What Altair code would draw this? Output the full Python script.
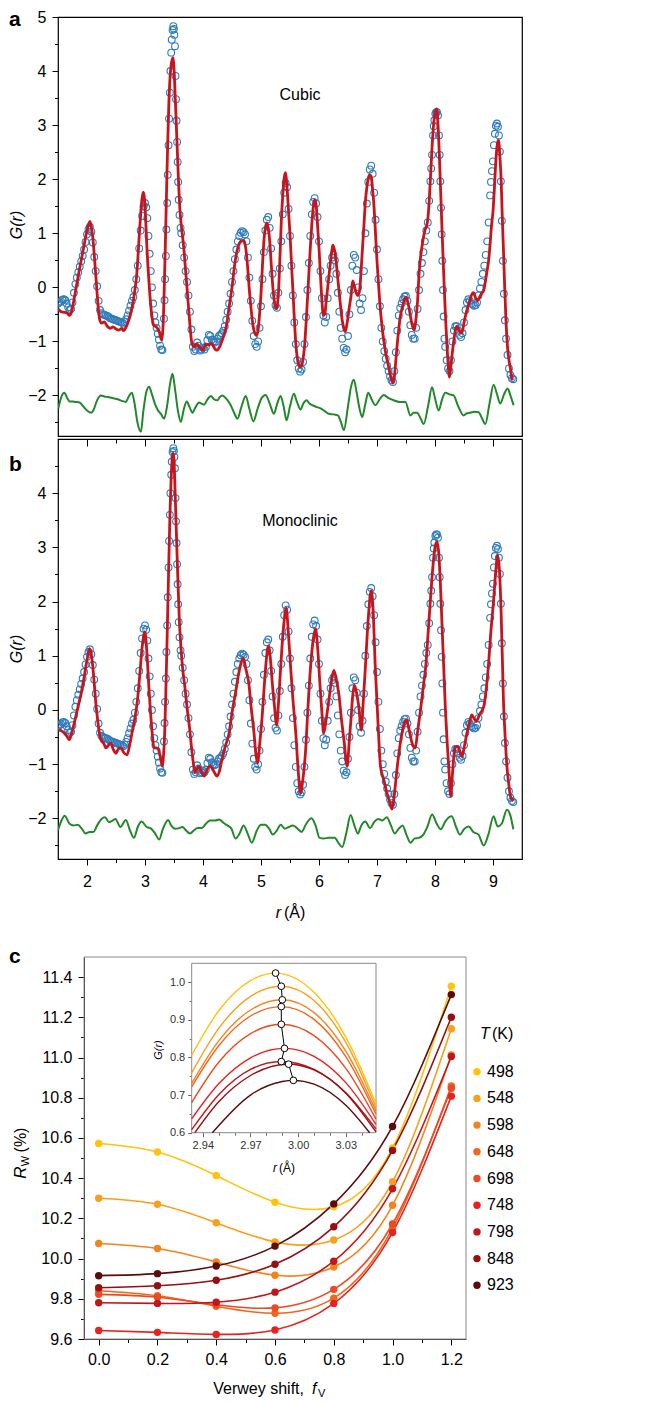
import altair as alt
import pandas as pd

FONT = "Liberation Sans"
BLUE = "#2f7bbd"
RED = "#c8151b"
GREEN = "#23882b"

# ---------------- panel a / b : G(r) data ----------------
OBS = [(1.500,-0.30),(1.525,-0.28),(1.550,-0.26),(1.575,-0.23),(1.600,-0.22),(1.625,-0.24),(1.650,-0.30),(1.675,-0.37),
(1.700,-0.42),(1.725,-0.40),(1.750,-0.28),(1.775,-0.10),(1.800,0.06),(1.825,0.18),(1.850,0.28),(1.875,0.38),(1.900,0.48),
(1.925,0.58),(1.950,0.70),(1.975,0.84),(2.000,0.98),(2.025,1.07),(2.050,1.12),(2.075,1.03),(2.100,0.83),(2.125,0.56),
(2.150,0.30),(2.175,0.02),(2.200,-0.25),(2.225,-0.42),(2.250,-0.48),(2.275,-0.50),(2.300,-0.51),(2.325,-0.52),(2.350,-0.53),
(2.375,-0.55),(2.400,-0.57),(2.425,-0.58),(2.450,-0.59),(2.475,-0.60),(2.500,-0.61),(2.525,-0.62),(2.550,-0.63),(2.575,-0.64),
(2.600,-0.65),(2.625,-0.67),(2.650,-0.64),(2.675,-0.59),(2.700,-0.52),(2.725,-0.43),(2.750,-0.34),(2.775,-0.25),(2.800,-0.18),
(2.825,-0.05),(2.850,0.15),(2.875,0.40),(2.900,0.72),(2.925,1.05),(2.950,1.32),(2.975,1.50),(3.000,1.56),(3.020,1.48),
(3.040,1.28),(3.060,0.95),(3.080,0.62),(3.100,0.30),(3.120,0.00),(3.140,-0.30),(3.160,-0.52),(3.180,-0.65),(3.200,-0.75),
(3.220,-0.86),(3.240,-0.97),(3.260,-1.08),(3.280,-1.15),(3.300,-1.16),(3.327,-0.58),(3.337,-0.24),(3.346,0.15),(3.360,0.58),
(3.369,1.07),(3.383,1.56),(3.392,2.08),(3.406,2.63),(3.415,3.12),(3.429,3.60),(3.438,4.00),(3.452,4.34),(3.461,4.58),
(3.475,4.76),(3.489,4.83),(3.498,4.78),(3.507,4.67),(3.517,4.46),(3.526,3.91),(3.535,3.48),(3.544,3.08),(3.554,2.69),
(3.563,2.32),(3.572,1.95),(3.581,1.62),(3.595,1.34),(3.613,1.10),(3.625,1.00),(3.650,0.78),
(3.675,0.55),(3.700,0.30),(3.725,0.10),(3.750,-0.15),(3.775,-0.45),(3.800,-0.78),(3.825,-1.10),(3.850,-1.18),(3.875,-1.15),
(3.900,-1.02),(3.925,-1.08),(3.950,-1.17),(3.975,-1.15),(4.000,-1.12),(4.025,-1.15),(4.050,-1.10),(4.075,-0.98),(4.100,-0.88),
(4.125,-0.90),(4.150,-0.97),(4.175,-1.00),(4.200,-1.02),(4.225,-1.00),(4.250,-0.95),(4.275,-0.90),(4.300,-0.88),(4.325,-0.85),
(4.350,-0.80),(4.375,-0.72),(4.400,-0.60),(4.425,-0.45),(4.450,-0.30),(4.475,-0.12),(4.500,0.10),(4.525,0.30),(4.550,0.52),
(4.575,0.70),(4.600,0.85),(4.625,0.95),(4.650,1.01),(4.675,1.04),(4.700,1.02),(4.725,0.98),(4.750,0.85),(4.775,0.55),
(4.800,0.18),(4.825,-0.25),(4.850,-0.62),(4.875,-0.90),(4.900,-1.05),(4.925,-1.10),(4.950,-1.00),(4.975,-0.75),(5.000,-0.35),
(5.025,0.15),(5.050,0.65),(5.075,1.05),(5.100,1.25),(5.125,1.30),(5.150,1.10),(5.175,0.72),(5.200,0.25),(5.225,-0.15),
(5.250,-0.33),(5.275,-0.38),(5.300,-0.10),(5.325,0.35),(5.350,0.85),(5.375,1.35),(5.400,1.75),(5.425,1.93),(5.450,1.85),
(5.475,1.45),(5.500,0.95),(5.525,0.40),(5.550,-0.15),(5.575,-0.65),(5.600,-1.05),(5.625,-1.35),(5.650,-1.50),(5.675,-1.56),
(5.700,-1.52),(5.725,-1.38),(5.750,-1.05),(5.775,-0.55),(5.800,-0.05),(5.825,0.45),(5.850,0.95),(5.875,1.35),(5.900,1.58),
(5.925,1.65),(5.950,1.55),(5.975,1.30),(6.000,0.85),(6.025,0.30),(6.050,-0.20),(6.075,-0.52),(6.100,-0.65),(6.125,-0.55),
(6.150,-0.20),(6.175,0.15),(6.200,0.40),(6.225,0.55),(6.250,0.60),(6.275,0.50),(6.300,0.25),(6.325,-0.10),(6.350,-0.45),
(6.375,-0.75),(6.400,-0.95),(6.425,-1.12),(6.450,-1.20),(6.475,-1.15),(6.500,-0.90),(6.525,-0.50),(6.550,-0.05),(6.575,0.40),
(6.600,0.60),(6.625,0.55),(6.650,0.32),(6.675,0.00),(6.700,-0.30),(6.725,-0.42),(6.750,-0.20),(6.775,0.30),(6.800,1.00),
(6.825,1.55),(6.850,1.95),(6.875,2.18),(6.900,2.25),(6.925,2.10),(6.950,1.75),(6.975,1.25),(7.000,0.70),(7.025,0.15),
(7.050,-0.35),(7.075,-0.75),(7.100,-1.00),(7.125,-1.18),(7.150,-1.32),(7.175,-1.45),(7.200,-1.55),(7.225,-1.65),(7.250,-1.72),
(7.275,-1.75),(7.300,-1.55),(7.325,-1.20),(7.350,-0.80),(7.375,-0.52),(7.400,-0.38),(7.425,-0.30),(7.450,-0.22),(7.475,-0.17),
(7.500,-0.16),(7.525,-0.25),(7.550,-0.45),(7.575,-0.70),(7.600,-0.88),(7.625,-0.95),(7.650,-0.95),(7.675,-0.75),(7.700,-0.40),
(7.725,-0.05),(7.750,0.25),(7.775,0.45),(7.800,0.65),(7.825,0.85),(7.850,1.05),(7.875,1.20),(7.900,1.60),(7.920,1.96),
(7.935,2.20),(7.949,2.45),(7.966,2.81),(7.978,2.98),(7.989,3.09),(8.006,3.21),(8.020,3.24),(8.035,3.24),(8.052,3.18),
(8.069,2.81),(8.081,2.45),(8.092,1.96),(8.104,1.47),(8.115,0.98),(8.127,0.49),(8.138,-0.05),(8.149,-0.54),(8.162,-0.95),
(8.175,-1.10),(8.200,-1.35),(8.225,-1.50),(8.250,-1.55),(8.275,-1.35),(8.300,-1.00),(8.325,-0.80),(8.350,-0.72),(8.375,-0.72),
(8.400,-0.80),(8.425,-0.88),(8.450,-0.92),(8.475,-0.85),(8.500,-0.65),(8.525,-0.42),(8.550,-0.28),(8.575,-0.22),(8.600,-0.25),
(8.625,-0.30),(8.650,-0.32),(8.675,-0.34),(8.700,-0.33),(8.725,-0.28),(8.750,-0.15),(8.775,-0.02),(8.800,0.10),(8.825,0.25),
(8.850,0.40),(8.875,0.60),(8.900,0.85),(8.925,1.20),(8.950,1.70),(8.965,1.95),(8.982,2.15),(8.999,2.33),(9.016,2.63),
(9.033,2.84),(9.050,2.99),(9.068,3.03),(9.085,2.97),(9.102,2.81),(9.119,2.51),(9.136,1.96),(9.153,1.23),(9.171,0.49),
(9.188,-0.12),(9.205,-0.61),(9.225,-0.95),(9.250,-1.25),(9.275,-1.50),(9.300,-1.62),(9.325,-1.68),(9.350,-1.70)]

CALC_CUBIC = [(1.50,-0.40),(1.55,-0.45),(1.60,-0.46),(1.65,-0.47),(1.70,-0.52),(1.725,-0.48),(1.75,-0.37),(1.80,-0.08),
(1.85,0.22),(1.90,0.50),(1.95,0.78),(2.00,1.05),(2.05,1.22),(2.075,1.12),(2.10,0.92),(2.125,0.60),(2.15,0.25),(2.175,-0.12),
(2.20,-0.45),(2.225,-0.62),(2.25,-0.66),(2.30,-0.64),(2.35,-0.72),(2.40,-0.76),(2.45,-0.73),(2.50,-0.77),(2.55,-0.79),
(2.60,-0.76),(2.625,-0.80),(2.65,-0.78),(2.70,-0.67),(2.75,-0.49),(2.80,-0.24),(2.825,-0.05),(2.85,0.15),(2.875,0.50),
(2.90,0.95),(2.925,1.35),(2.95,1.65),(2.97,1.76),(2.99,1.65),(3.01,1.30),(3.03,0.80),(3.05,0.40),(3.075,0.00),(3.10,-0.35),
(3.125,-0.58),(3.15,-0.70),(3.175,-0.72),(3.20,-0.74),(3.225,-0.78),(3.25,-0.84),(3.275,-0.95),(3.29,-0.97),(3.31,-0.75),
(3.33,-0.10),(3.35,0.75),(3.37,1.70),(3.39,2.60),(3.41,3.35),(3.43,3.85),(3.45,4.10),(3.47,4.22),(3.485,4.25),(3.50,4.05),
(3.52,3.55),(3.54,3.00),(3.56,2.45),(3.58,1.90),(3.60,1.47),(3.625,1.15),(3.65,0.92),(3.675,0.65),(3.70,0.31),(3.725,-0.02),
(3.75,-0.37),(3.775,-0.70),(3.80,-0.98),(3.825,-1.08),(3.85,-1.10),(3.875,-1.06),(3.90,-1.05),(3.925,-1.09),(3.95,-1.12),
(3.975,-1.14),(4.00,-1.16),(4.025,-1.10),(4.05,-1.05),(4.075,-1.06),(4.10,-1.07),(4.125,-1.05),(4.15,-1.04),(4.175,-1.08),
(4.20,-1.13),(4.225,-1.16),(4.25,-1.16),(4.275,-1.12),(4.30,-1.07),(4.325,-1.00),(4.35,-0.92),(4.40,-0.73),(4.45,-0.37),
(4.50,0.00),(4.55,0.45),(4.60,0.73),(4.65,0.85),(4.70,0.87),(4.725,0.80),(4.75,0.61),(4.775,0.30),(4.80,-0.06),(4.825,-0.35),
(4.85,-0.61),(4.875,-0.78),(4.90,-0.86),(4.92,-0.89),(4.95,-0.79),(4.975,-0.50),(5.00,-0.12),(5.025,0.40),(5.05,0.86),
(5.075,1.10),(5.10,1.19),(5.125,1.10),(5.15,0.86),(5.175,0.45),(5.20,0.06),(5.225,-0.22),(5.25,-0.37),(5.27,-0.40),
(5.30,-0.12),(5.325,0.50),(5.35,1.22),(5.375,1.70),(5.40,2.02),(5.42,2.12),(5.45,1.83),(5.475,1.40),(5.50,0.98),(5.525,0.45),
(5.55,-0.06),(5.575,-0.58),(5.60,-1.04),(5.625,-1.30),(5.65,-1.44),(5.675,-1.47),(5.70,-1.45),(5.725,-1.32),(5.75,-1.10),
(5.775,-0.70),(5.80,-0.24),(5.825,0.25),(5.85,0.73),(5.875,1.15),(5.90,1.47),(5.925,1.62),(5.95,1.53),(5.975,1.15),
(6.00,0.73),(6.025,0.22),(6.05,-0.24),(6.075,-0.52),(6.10,-0.49),(6.125,-0.25),(6.15,0.00),(6.175,0.25),(6.20,0.49),
(6.225,0.70),(6.24,0.78),(6.26,0.72),(6.28,0.61),(6.30,0.43),(6.325,0.15),(6.35,-0.12),(6.375,-0.38),(6.40,-0.61),
(6.425,-0.75),(6.45,-0.82),(6.475,-0.72),(6.50,-0.55),(6.525,-0.35),(6.55,-0.18),(6.58,0.12),(6.61,0.02),(6.64,-0.10),
(6.67,-0.15),(6.70,-0.06),(6.725,0.30),(6.75,0.73),(6.775,1.15),(6.80,1.59),(6.825,1.85),(6.85,2.02),(6.875,2.08),
(6.90,2.05),(6.925,1.80),(6.95,1.47),(6.975,0.98),(7.00,0.49),(7.025,0.08),(7.05,-0.31),(7.075,-0.60),(7.10,-0.85),
(7.125,-1.05),(7.15,-1.22),(7.175,-1.35),(7.20,-1.47),(7.225,-1.60),(7.25,-1.71),(7.275,-1.77),(7.30,-1.65),(7.325,-1.35),
(7.35,-1.04),(7.375,-0.78),(7.40,-0.55),(7.425,-0.42),(7.45,-0.31),(7.475,-0.22),(7.50,-0.18),(7.525,-0.25),(7.55,-0.37),
(7.575,-0.52),(7.60,-0.67),(7.625,-0.76),(7.645,-0.79),(7.675,-0.55),(7.70,-0.24),(7.725,0.25),(7.75,0.55),(7.775,0.75),
(7.80,0.92),(7.825,1.05),(7.85,1.12),(7.875,1.25),(7.90,1.60),(7.925,2.10),(7.95,2.60),(7.975,3.00),(8.00,3.22),(8.03,3.30),
(8.05,3.05),(8.075,2.45),(8.10,1.70),(8.125,0.95),(8.15,0.25),(8.175,-0.40),(8.20,-0.95),(8.225,-1.40),(8.25,-1.66),
(8.275,-1.45),(8.30,-1.20),(8.325,-0.98),(8.35,-0.80),(8.38,-0.72),(8.41,-0.78),(8.44,-0.84),(8.465,-0.84),(8.50,-0.65),
(8.55,-0.42),(8.60,-0.25),(8.635,-0.13),(8.665,-0.10),(8.70,-0.20),(8.73,-0.25),(8.75,-0.22),(8.80,-0.12),(8.84,-0.05),
(8.875,0.15),(8.90,0.32),(8.925,0.50),(8.95,0.80),(8.975,1.15),(9.00,1.40),(9.025,1.85),(9.05,2.35),(9.075,2.65),
(9.095,2.72),(9.12,2.40),(9.14,2.00),(9.16,1.30),(9.18,0.70),(9.20,0.05),(9.225,-0.65),(9.25,-1.10),(9.275,-1.35),
(9.30,-1.50),(9.325,-1.68),(9.34,-1.72)]

CALC_MONO = [(1.506,-0.37),(1.55,-0.38),(1.61,-0.43),(1.65,-0.48),(1.695,-0.55),(1.73,-0.45),(1.78,-0.24),(1.85,0.08),
(1.90,0.31),(1.95,0.60),(2.00,0.92),(2.04,1.13),(2.07,1.05),(2.10,0.80),(2.125,0.49),(2.15,0.15),(2.18,-0.15),(2.21,-0.40),
(2.24,-0.55),(2.29,-0.62),(2.326,-0.70),(2.37,-0.65),(2.41,-0.61),(2.45,-0.72),(2.50,-0.80),(2.54,-0.72),(2.585,-0.70),
(2.63,-0.78),(2.69,-0.83),(2.74,-0.62),(2.785,-0.37),(2.83,-0.12),(2.87,0.18),(2.91,0.65),(2.95,1.15),(2.997,1.44),
(3.03,1.10),(3.07,0.37),(3.11,-0.25),(3.158,-0.70),(3.19,-0.70),(3.227,-0.72),(3.26,-0.85),(3.30,-1.04),(3.315,-0.90),
(3.34,-0.40),(3.36,0.35),(3.387,1.60),(3.41,2.70),(3.43,3.60),(3.45,4.25),(3.47,4.65),(3.485,4.74),(3.50,4.60),(3.52,4.00),
(3.54,3.30),(3.56,2.63),(3.59,1.71),(3.62,1.15),(3.646,0.80),(3.69,0.40),(3.73,0.00),(3.77,-0.35),(3.80,-0.67),(3.83,-0.95),
(3.86,-1.16),(3.895,-1.08),(3.93,-1.04),(3.975,-1.15),(4.02,-1.22),(4.07,-1.10),(4.12,-1.03),(4.18,-1.12),(4.24,-1.22),
(4.29,-1.10),(4.33,-0.89),(4.39,-0.65),(4.45,-0.43),(4.50,-0.05),(4.56,0.31),(4.62,0.70),(4.696,0.95),(4.74,0.75),
(4.79,0.49),(4.83,0.05),(4.88,-0.43),(4.91,-0.80),(4.94,-0.98),(4.98,-0.60),(5.02,-0.12),(5.06,0.50),(5.11,1.10),(5.13,1.18),
(5.17,0.85),(5.195,0.49),(5.23,0.10),(5.27,-0.28),(5.30,0.10),(5.34,0.80),(5.39,1.55),(5.435,1.88),(5.47,1.45),(5.51,0.80),
(5.55,0.20),(5.60,-0.43),(5.64,-1.10),(5.68,-1.53),(5.72,-1.30),(5.77,-0.73),(5.81,0.05),(5.855,0.80),(5.90,1.30),(5.94,1.50),
(5.98,1.10),(6.015,0.49),(6.05,-0.05),(6.08,-0.43),(6.12,-0.20),(6.17,0.18),(6.21,0.50),(6.256,0.73),(6.30,0.55),(6.34,0.31),
(6.39,-0.20),(6.43,-0.55),(6.486,-1.04),(6.52,-0.60),(6.555,-0.12),(6.58,0.25),(6.61,0.46),(6.65,0.30),(6.686,0.06),
(6.73,-0.37),(6.76,0.10),(6.80,0.80),(6.85,1.70),(6.90,2.20),(6.93,1.90),(6.97,0.80),(7.02,-0.30),(7.06,-1.04),(7.12,-1.30),
(7.17,-1.53),(7.22,-1.70),(7.26,-1.83),(7.30,-1.55),(7.35,-1.04),(7.39,-0.70),(7.43,-0.43),(7.47,-0.25),(7.507,-0.18),
(7.55,-0.35),(7.59,-0.55),(7.62,-0.66),(7.66,-0.70),(7.70,-0.40),(7.75,0.00),(7.80,0.45),(7.84,0.80),(7.88,1.40),(7.92,2.02),
(7.96,2.60),(8.00,3.00),(8.03,3.10),(8.06,2.95),(8.09,2.40),(8.12,1.60),(8.15,0.80),(8.18,0.00),(8.21,-0.60),(8.24,-1.10),
(8.27,-1.59),(8.30,-1.20),(8.33,-0.80),(8.36,-0.68),(8.39,-0.67),(8.43,-0.78),(8.465,-0.86),(8.51,-0.65),(8.55,-0.43),
(8.60,-0.20),(8.635,-0.09),(8.67,-0.15),(8.71,-0.21),(8.77,-0.08),(8.84,0.06),(8.88,0.35),(8.92,0.80),(8.96,1.40),
(9.01,2.02),(9.05,2.60),(9.08,2.85),(9.11,2.60),(9.14,1.80),(9.16,1.00),(9.18,0.18),(9.21,-0.50),(9.24,-1.04),(9.27,-1.35),
(9.30,-1.59),(9.35,-1.68)]

DIFF_CUBIC = [(1.505,-2.24),(1.56,-2.02),(1.61,-1.95),(1.66,-2.05),(1.70,-2.11),(1.75,-2.11),(1.80,-2.12),(1.87,-2.13),
(1.95,-2.22),(2.00,-2.28),(2.07,-2.32),(2.12,-2.25),(2.17,-2.10),(2.24,-2.00),(2.30,-2.02),(2.36,-2.03),(2.45,-2.05),
(2.53,-2.07),(2.60,-2.10),(2.67,-2.12),(2.72,-2.02),(2.775,-1.95),(2.82,-2.15),(2.87,-2.50),(2.93,-2.67),(2.97,-2.30),
(3.02,-1.95),(3.07,-1.84),(3.12,-1.98),(3.17,-2.15),(3.22,-2.27),(3.28,-2.35),(3.33,-2.43),(3.38,-2.20),(3.43,-1.80),
(3.474,-1.60),(3.52,-1.90),(3.57,-2.30),(3.617,-2.49),(3.67,-2.25),(3.72,-2.11),(3.77,-2.22),(3.818,-2.32),(3.87,-2.22),
(3.932,-2.13),(3.97,-2.15),(4.018,-2.17),(4.08,-2.07),(4.134,-2.01),(4.19,-2.07),(4.248,-2.09),(4.29,-2.03),(4.334,-2.00),
(4.40,-2.06),(4.478,-2.18),(4.54,-2.33),(4.593,-2.43),(4.66,-2.22),(4.736,-2.01),(4.80,-2.25),(4.868,-2.48),(4.94,-2.25),
(5.01,-2.05),(5.08,-1.99),(5.15,-2.15),(5.223,-2.34),(5.28,-2.15),(5.338,-2.01),(5.39,-2.20),(5.441,-2.46),(5.50,-2.20),
(5.567,-1.97),(5.62,-2.12),(5.682,-2.26),(5.73,-2.15),(5.786,-2.09),(5.835,-2.15),(5.884,-2.18),(5.95,-2.21),(6.027,-2.24),
(6.10,-2.29),(6.17,-2.34),(6.25,-2.35),(6.325,-2.37),(6.38,-2.50),(6.428,-2.64),(6.50,-2.20),(6.55,-1.85),(6.60,-1.71),
(6.65,-1.95),(6.70,-2.25),(6.744,-2.40),(6.80,-2.15),(6.848,-1.95),(6.91,-2.08),(6.973,-2.18),(7.04,-2.08),(7.116,-1.99),
(7.20,-2.05),(7.288,-2.09),(7.39,-2.12),(7.49,-2.12),(7.576,-2.37),(7.63,-2.32),(7.691,-2.32),(7.75,-2.42),(7.805,-2.53),
(7.88,-2.20),(7.949,-1.85),(8.00,-2.05),(8.063,-2.28),(8.12,-2.08),(8.178,-1.95),(8.25,-1.98),(8.321,-2.00),(8.40,-2.20),
(8.493,-2.37),(8.55,-2.33),(8.608,-2.32),(8.68,-2.30),(8.752,-2.31),(8.81,-2.42),(8.867,-2.53),(8.94,-2.15),(9.01,-1.80),
(9.07,-1.98),(9.125,-2.15),(9.19,-1.98),(9.251,-1.87),(9.30,-2.00),(9.354,-2.18)]

DIFF_MONO = [(1.50,-2.22),(1.56,-2.04),(1.615,-1.95),(1.70,-2.10),(1.77,-2.13),(1.84,-2.12),(1.91,-2.19),(1.975,-2.28),
(2.045,-2.25),(2.11,-2.25),(2.18,-2.12),(2.25,-2.01),(2.31,-1.98),(2.38,-2.07),(2.44,-2.04),(2.49,-2.01),(2.575,-2.16),
(2.67,-2.03),(2.74,-2.22),(2.81,-2.36),(2.875,-2.16),(2.94,-2.06),(3.03,-2.16),(3.105,-2.19),(3.175,-2.28),(3.245,-2.39),
(3.31,-2.19),(3.40,-2.03),(3.45,-2.13),(3.52,-2.19),(3.59,-2.18),(3.645,-2.16),(3.705,-2.22),(3.775,-2.28),(3.845,-2.22),
(3.91,-2.18),(3.98,-2.18),(4.05,-2.10),(4.12,-2.04),(4.21,-2.04),(4.28,-2.02),(4.35,-2.08),(4.42,-2.13),(4.49,-2.19),
(4.56,-2.37),(4.63,-2.28),(4.70,-2.13),(4.78,-2.31),(4.84,-2.45),(4.93,-2.22),(5.00,-2.12),(5.07,-2.12),(5.14,-2.19),
(5.205,-2.30),(5.275,-2.22),(5.34,-2.12),(5.41,-2.19),(5.48,-2.16),(5.55,-2.13),(5.62,-2.18),(5.70,-2.25),(5.78,-2.10),
(5.87,-2.00),(5.94,-2.13),(6.01,-2.36),(6.08,-2.37),(6.175,-2.36),(6.27,-2.36),(6.34,-2.46),(6.40,-2.53),(6.475,-2.25),
(6.545,-1.94),(6.61,-2.13),(6.67,-2.28),(6.73,-2.13),(6.80,-2.06),(6.88,-2.18),(6.95,-2.07),(7.02,-2.01),(7.09,-2.04),
(7.17,-1.98),(7.24,-2.13),(7.305,-2.28),(7.375,-2.19),(7.44,-2.13),(7.51,-2.31),(7.58,-2.45),(7.65,-2.37),(7.72,-2.36),
(7.80,-2.30),(7.87,-2.15),(7.95,-1.93),(8.03,-2.10),(8.10,-2.20),(8.18,-2.05),(8.29,-1.96),(8.36,-2.15),(8.43,-2.30),
(8.50,-2.20),(8.58,-2.15),(8.66,-2.25),(8.75,-2.30),(8.84,-2.50),(8.92,-2.30),(9.01,-1.96),(9.08,-2.15),(9.15,-2.10),
(9.24,-1.84),(9.30,-1.95),(9.35,-2.20)]

X_MAJOR = [2, 3, 4, 5, 6, 7, 8, 9]
X_MINOR = [2.5, 3.5, 4.5, 5.5, 6.5, 7.5, 8.5]
Y_MAJOR_A = [-2, -1, 0, 1, 2, 3, 4, 5]
Y_MAJOR_B = [-2, -1, 0, 1, 2, 3, 4]
Y_MINOR = [-2.5, -1.5, -0.5, 0.5, 1.5, 2.5, 3.5, 4.5]

# ---------------- panel c : Rw vs Verwey shift ----------------
F_V = [0.0, 0.2, 0.4, 0.6, 0.8, 1.0, 1.2]
TEMPS = ["498", "548", "598", "648", "698", "748", "798", "848", "923"]
T_COLORS = ["#fdc30f", "#f8a01c", "#f4831f", "#f0661f", "#ec4a22", "#e8221f", "#c0171c", "#951010", "#5b0b0b"]
RW_498 = [10.572, 10.530, 10.413, 10.280, 10.258, 10.550, 11.355]
RW_548 = [10.300, 10.270, 10.178, 10.083, 10.092, 10.382, 11.143]
RW_598 = [10.075, 10.050, 9.983, 9.917, 9.958, 10.265, 11.013]
RW_648 = [9.840, 9.815, 9.763, 9.728, 9.803, 10.150, 10.858]
RW_698 = [9.822, 9.808, 9.770, 9.755, 9.847, 10.172, 10.847]
RW_748 = [9.642, 9.633, 9.623, 9.645, 9.777, 10.130, 10.808]
RW_798 = [9.780, 9.777, 9.783, 9.833, 9.987, 10.347, 11.005]
RW_848 = [9.855, 9.865, 9.892, 9.972, 10.158, 10.538, 11.200]
RW_923 = [9.915, 9.925, 9.963, 10.062, 10.272, 10.657, 11.313]

# inset: G(r) near 3 Å for each temperature
IN_498 = [(2.933,0.806),(2.95,0.924),(2.97,1.004),(2.9858,1.024),(3.01,0.973),(3.03,0.854),(3.049,0.677)]
IN_548 = [(2.933,0.759),(2.95,0.877),(2.97,0.962),(2.9894,0.989),(3.01,0.951),(3.03,0.840),(3.049,0.667)]
IN_598 = [(2.933,0.731),(2.95,0.844),(2.97,0.926),(2.990,0.953),(3.01,0.919),(3.03,0.817),(3.049,0.658)]
IN_648 = [(2.933,0.722),(2.95,0.831),(2.97,0.910),(2.9894,0.935),(3.01,0.901),(3.03,0.802),(3.049,0.649)]
IN_698 = [(2.933,0.680),(2.95,0.787),(2.97,0.863),(2.9894,0.888),(3.01,0.858),(3.03,0.771),(3.049,0.636)]
IN_748 = [(2.933,0.637),(2.95,0.730),(2.97,0.799),(2.9914,0.824),(3.01,0.803),(3.03,0.733),(3.049,0.622)]
IN_798 = [(2.933,0.608),(2.95,0.701),(2.97,0.768),(2.9894,0.789),(3.01,0.768),(3.03,0.706),(3.049,0.610)]
IN_848 = [(2.935,0.600),(2.95,0.682),(2.97,0.752),(2.994,0.782),(3.01,0.767),(3.03,0.705),(3.049,0.602)]
IN_923 = [(2.946,0.600),(2.97,0.700),(2.99,0.736),(2.997,0.739),(3.01,0.729),(3.03,0.673),(3.045,0.600)]
PEAK_R = [2.9858, 2.9894, 2.9900, 2.9894, 2.9894, 2.9914, 2.9894, 2.9940, 2.9970]
PEAK_G = [1.024, 0.989, 0.953, 0.935, 0.888, 0.824, 0.789, 0.782, 0.739]

# ---------------- helpers ----------------
ONE = pd.DataFrame({"k": [0]})


def text_mark(s, x, y, size=16, style="normal", weight="normal", align="center",
              baseline="alphabetic", angle=0, color="black"):
    kw = dict(text=s, font=FONT, fontSize=size, fontStyle=style, fontWeight=weight,
              align=align, baseline=baseline, color=color)
    if angle:
        kw["angle"] = angle
    return alt.Chart(ONE).mark_text(**kw).encode(x=alt.value(x), y=alt.value(y))


def tick_axis(values, size, orient, offset=0):
    return alt.Axis(orient=orient, offset=offset, values=values, labels=False, domain=False,
                    grid=False, title=None, tickSize=size, tickColor="black")


def tick_layer(xdom, ydom, xaxis=None, yaxis=None):
    """invisible mark whose only job is to carry extra tick-only axes"""
    df = pd.DataFrame({"x": [(xdom[0] + xdom[1]) / 2.0], "y": [(ydom[0] + ydom[1]) / 2.0]})
    return alt.Chart(df).mark_point(opacity=0).encode(
        x=alt.X("x:Q", scale=alt.Scale(domain=xdom, nice=False, zero=False), axis=xaxis),
        y=alt.Y("y:Q", scale=alt.Scale(domain=ydom, nice=False, zero=False), axis=yaxis))


W_AB, H_A, H_B = 464, 419, 420
XDOM = [1.5, 9.5]
YDOM = [-2.75, 5.0]


def pdf_panel(calc, diff, ymajor, bottom_axis, texts):
    obs_df = pd.DataFrame(OBS, columns=["r", "G"])
    calc_df = pd.DataFrame(calc, columns=["r", "G"])
    diff_df = pd.DataFrame(diff, columns=["r", "G"])
    xs = alt.Scale(domain=XDOM, nice=False, zero=False)
    ys = alt.Scale(domain=YDOM, nice=False, zero=False)
    if bottom_axis:
        xaxis = alt.Axis(values=X_MAJOR, format="d", tickSize=6, labelPadding=8, labelOverlap=False,
                         title=None, grid=False, domain=False)
    else:
        xaxis = None
    yaxis = alt.Axis(values=ymajor, format="d", tickSize=6, labelPadding=6, labelOverlap=False,
                     title=None, grid=False, domain=False)
    x = alt.X("r:Q", scale=xs, axis=xaxis)
    y = alt.Y("G:Q", scale=ys, axis=yaxis)
    pts = alt.Chart(obs_df).mark_point(shape="circle", filled=False, size=46, strokeWidth=1.1,
                                       color=BLUE, opacity=1, clip=True).encode(x=x, y=y)
    fit = alt.Chart(calc_df).mark_line(color=RED, strokeWidth=2.8, interpolate="monotone",
                                       clip=True).encode(x=x, y=y)
    dif = alt.Chart(diff_df).mark_line(color=GREEN, strokeWidth=2.0, interpolate="monotone",
                                       clip=True).encode(x=x, y=y)
    return alt.layer(pts, fit, dif, *texts)


main_a = pdf_panel(CALC_CUBIC, DIFF_CUBIC, Y_MAJOR_A, False, [
    text_mark("a", -49, 9, size=21, weight="bold", align="left"),
    text_mark("G(r)", -41, 208, style="italic", angle=270, baseline="middle"),
    text_mark("Cubic", 242, 83),
])
panel_a = alt.layer(
    main_a,
    tick_layer(XDOM, YDOM, xaxis=None, yaxis=tick_axis(Y_MINOR, 3.5, "left")),
).resolve_scale(x="independent", y="independent").properties(
    width=W_AB, height=H_A, view=alt.ViewBackground(stroke="black", strokeWidth=1.2))

main_b = pdf_panel(CALC_MONO, DIFF_MONO, Y_MAJOR_B, True, [
    text_mark("b", -49, 32, size=21, weight="bold", align="left"),
    text_mark("G(r)", -41, 210, style="italic", angle=270, baseline="middle"),
    text_mark("Monoclinic", 242, 87),
    text_mark("r", 223, H_B + 59, style="italic", align="right"),
    text_mark("(Å)", 226, H_B + 59, align="left"),
])
panel_b = alt.layer(
    main_b,
    tick_layer(XDOM, YDOM, xaxis=tick_axis(X_MINOR, 3.5, "bottom"), yaxis=tick_axis(Y_MINOR, 3.5, "left")),
    tick_layer(XDOM, YDOM, xaxis=tick_axis(X_MAJOR, 7, "bottom", offset=-H_B), yaxis=None),
    tick_layer(XDOM, YDOM, xaxis=tick_axis(X_MINOR, 4, "bottom", offset=-H_B), yaxis=None),
).resolve_scale(x="independent", y="independent").properties(
    width=W_AB, height=H_B, view=alt.ViewBackground(stroke="black", strokeWidth=1.2))

# ---------------- panel c ----------------
SHIFT = 26          # panel c plot starts 26 px right of panels a/b
W_C, H_C = 382, 382
rows = []
for t, vals in zip(TEMPS, [RW_498, RW_548, RW_598, RW_648, RW_698, RW_748, RW_798, RW_848, RW_923]):
    for f, v in zip(F_V, vals):
        rows.append({"f": f, "Rw": v, "T": t, "Tl": t})
rw_df = pd.DataFrame(rows)

inrows = []
for t, pts_ in zip(TEMPS, [IN_498, IN_548, IN_598, IN_648, IN_698, IN_748, IN_798, IN_848, IN_923]):
    for r, g in pts_:
        inrows.append({"r": r, "G": g, "Tl": t})
in_df = pd.DataFrame(inrows)
peak_df = pd.DataFrame({"r": PEAK_R, "G": PEAK_G, "idx": list(range(len(PEAK_R)))})

EVEN = "abs(round(datum.value * 10)) % 2 === 0"
color_scale = alt.Scale(domain=TEMPS, range=T_COLORS)
stroke_scale = alt.Scale(domain=TEMPS, range=T_COLORS)
F_DOM = [-0.05, 1.25]
R_DOM = [9.6, 11.5]
fx = alt.X("f:Q", scale=alt.Scale(domain=F_DOM, range=[SHIFT, SHIFT + W_C], nice=False, zero=False),
           axis=alt.Axis(values=[0.0, 0.1, 0.2, 0.3, 0.4, 0.5, 0.6, 0.7, 0.8, 0.9, 1.0, 1.1, 1.2],
                         format=".1f", labelExpr=EVEN + " ? datum.label : ''", labelOverlap=False,
                         tickSize={"condition": {"test": EVEN, "value": 6}, "value": 3.5},
                         labelPadding=6, title=None, grid=False,
                         domain=True, domainColor="#222"))
ry = alt.Y("Rw:Q", scale=alt.Scale(domain=R_DOM, nice=False, zero=False),
           axis=alt.Axis(values=[9.6, 9.7, 9.8, 9.9, 10.0, 10.1, 10.2, 10.3, 10.4, 10.5, 10.6, 10.7,
                                 10.8, 10.9, 11.0, 11.1, 11.2, 11.3, 11.4],
                         format=".1f", labelExpr=EVEN + " ? datum.label : ''", labelOverlap=False,
                         tickSize={"condition": {"test": EVEN, "value": 6}, "value": 3.5},
                         labelPadding=6, title=None, grid=False,
                         domain=True, domainColor="#222", offset=-SHIFT))

c_frame = alt.Chart(pd.DataFrame({"f": [F_DOM[0]], "f2": [F_DOM[1]], "Rw": [R_DOM[0]], "Rw2": [R_DOM[1]]})).mark_rect(
    fillOpacity=0, stroke="#8a8a8a", strokeWidth=1).encode(x=fx, x2="f2:Q", y=ry, y2="Rw2:Q")
c_lines = alt.Chart(rw_df).mark_line(interpolate="natural", strokeWidth=1.6).encode(
    x=fx, y=ry, stroke=alt.Stroke("Tl:N", scale=stroke_scale, legend=None))
c_pts = alt.Chart(rw_df).mark_circle(size=55, opacity=1).encode(
    x=fx, y=ry, color=alt.Color("T:N", scale=color_scale, legend=None))
c_texts = [
    text_mark("c", SHIFT - 75, 6, size=21, weight="bold", align="left"),
    text_mark("R", SHIFT - 63, 215.5, size=17, style="italic", angle=270, baseline="middle"),
    text_mark("W", SHIFT - 58.5, 204, size=11, angle=270, baseline="middle"),
    text_mark("(%)", SHIFT - 63, 183, size=16, angle=270, baseline="middle"),
    text_mark("Verwey shift,", SHIFT + 220, 437, align="right"),
    text_mark("f", SHIFT + 228, 437, style="italic", align="left"),
    text_mark("V", SHIFT + 234, 440, size=11, align="left"),
    text_mark("T", SHIFT + 401, 82, style="italic"),
    text_mark("(K)", SHIFT + 408, 82, align="left"),
    text_mark("G(r)", SHIFT + 75, 93, size=11, style="italic", angle=270, baseline="middle"),
    text_mark("r", SHIFT + 193, 215, size=12, style="italic", align="right"),
    text_mark("(Å)", SHIFT + 195, 215, size=12, align="left"),
]
main_c = alt.layer(c_frame, c_lines, c_pts, *c_texts)

# inset
I_X0, I_X1, I_Y0, I_Y1 = SHIFT + 107.7, SHIFT + 292.0, 175.7, 6.3
ixs = alt.Scale(domain=[2.933, 3.049], range=[I_X0, I_X1], nice=False, zero=False)
iys = alt.Scale(domain=[0.6, 1.05], range=[I_Y0, I_Y1], nice=False, zero=False)
IN_X_TEST = "abs(round(datum.value * 100) - 294) % 3 === 0"
IN_Y_TEST = "abs(round(datum.value * 100)) % 10 === 0"
in_xaxis = alt.Axis(orient="bottom", offset=-(H_C - I_Y0),
                    values=[2.94, 2.95, 2.96, 2.97, 2.98, 2.99, 3.00, 3.01, 3.02, 3.03, 3.04],
                    format=".2f", labelExpr=IN_X_TEST + " ? datum.label : ''", labelOverlap=False,
                    tickSize={"condition": {"test": IN_X_TEST, "value": 4}, "value": 2.5},
                    labelFontSize=11, labelColor="#333", tickColor="#666", labelPadding=3,
                    domain=False, grid=False, title=None)
in_yaxis = alt.Axis(orient="left", offset=-I_X0,
                    values=[0.6, 0.65, 0.7, 0.75, 0.8, 0.85, 0.9, 0.95, 1.0],
                    format=".1f", labelExpr=IN_Y_TEST + " ? datum.label : ''", labelOverlap=False,
                    tickSize={"condition": {"test": IN_Y_TEST, "value": 4}, "value": 2.5},
                    labelFontSize=11, labelColor="#333", tickColor="#666", labelPadding=3,
                    domain=False, grid=False, title=None)
ix = alt.X("r:Q", scale=ixs, axis=in_xaxis)
iy = alt.Y("G:Q", scale=iys, axis=in_yaxis)
frame = alt.Chart(pd.DataFrame({"r": [2.933], "r2": [3.049], "G": [0.6], "G2": [1.05]})).mark_rect(
    fill="white", stroke="#8a8a8a", strokeWidth=1).encode(x=ix, x2="r2:Q", y=iy, y2="G2:Q")
in_lines = alt.Chart(in_df).mark_line(interpolate="monotone", strokeWidth=1.4).encode(
    x=ix, y=iy, stroke=alt.Stroke("Tl:N", scale=stroke_scale, legend=None))
pk_line = alt.Chart(peak_df).mark_line(color="black", strokeWidth=1).encode(
    x=ix, y=iy, order="idx:Q")
pk_pts = alt.Chart(peak_df).mark_point(shape="circle", filled=True, fill="white", stroke="black",
                                        strokeWidth=1, size=45, opacity=1).encode(x=ix, y=iy)
inset = alt.layer(frame, in_lines, pk_line, pk_pts)

# temperature key (drawn through its own scales, one row per temperature)
key_df = pd.DataFrame({"T": TEMPS, "row": list(range(len(TEMPS))), "kx": [0] * len(TEMPS)})
kx = alt.X("kx:Q", scale=alt.Scale(domain=[0, 1], range=[SHIFT + 393, SHIFT + 493], nice=False, zero=False), axis=None)
ky = alt.Y("row:Q", scale=alt.Scale(domain=[0, 8], range=[114.7, 328.3], nice=False, zero=False), axis=None)
key_pts = alt.Chart(key_df).mark_circle(size=55, opacity=1).encode(
    x=kx, y=ky, color=alt.Color("T:N", scale=color_scale, legend=None))
key_txt = alt.Chart(key_df).mark_text(align="left", baseline="middle", dx=10, fontSize=16, font=FONT,
                                      color="black").encode(x=kx, y=ky, text="T:N")
key = alt.layer(key_pts, key_txt)

panel_c = alt.layer(main_c, inset, key).resolve_scale(x="independent", y="independent").properties(
    width=SHIFT + W_C, height=H_C, view=alt.ViewBackground(stroke=None))

chart = alt.vconcat(alt.vconcat(panel_a, panel_b, spacing=0), panel_c, spacing=24).properties(
    padding=0
).configure_axis(
    labelFont=FONT, labelFontSize=16, labelColor="black", tickColor="black", tickWidth=1,
    domainColor="black"
).configure_view(stroke=None)

chart.save("out.html", embed_options={"renderer": "svg", "actions": False})
